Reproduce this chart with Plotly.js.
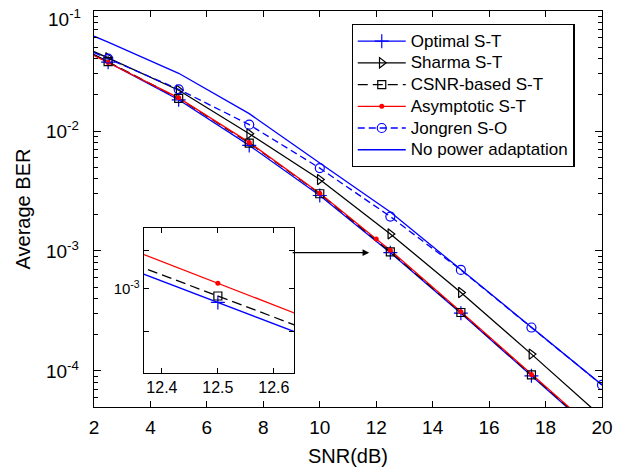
<!DOCTYPE html>
<html>
<head>
<meta charset="utf-8">
<script src="https://cdn.plot.ly/plotly-3.0.1.min.js"></script>
<style>
  html, body { margin: 0; padding: 0; background: #fff; }
  #chart { width: 634px; height: 469px; }
</style>
</head>
<body>
<div id="chart"></div>
<script>
// ---- data ----
const snr      = [2, 2.5, 5, 7.5, 10, 12.5, 15, 17.5, 20];
const optimal  = [0.0433, 0.0375, 0.01822, 0.00759, 0.00290, 9.675e-4, 3.03e-4, 9.1e-5, 2.75e-5];
const sharma   = [0.0459, 0.0408, 0.02188, 0.00950, 0.00394, 1.388e-3, 4.51e-4, 1.38e-4, 4.12e-5];
const csnr     = [0.0435, 0.0379, 0.01875, 0.00793, 0.00300, 9.83e-4, 3.07e-4, 9.27e-5, 2.8e-5];
const snrAsym  = [2, 2.5, 5, 7.5, 10, 12, 12.5, 15, 17.5, 20];
const asym     = [0.0426, 0.0373, 0.01892, 0.00804, 0.00303, 1.26e-3, 1.014e-3, 3.11e-4, 9.35e-5, 2.85e-5];
const jongren  = [0.0451, 0.0401, 0.0223, 0.0113, 0.00491, 1.936e-3, 6.95e-4, 2.30e-4, 7.64e-5];
const noPower  = [0.0618, 0.0551, 0.0303, 0.01396, 0.00542, 2.11e-3, 7.0e-4, 2.30e-4, 7.64e-5];

// inset (zoom around SNR = 12.5 dB)
const insetSnr     = [12.35, 12.5, 12.65];
const insetOptimal = [1.0466e-3, 9.675e-4, 8.944e-4];
const insetCsnr    = [1.0623e-3, 9.83e-4, 9.096e-4];
const insetAsym    = [1.0984e-3, 1.014e-3, 9.362e-4];

const names = ['Optimal S-T', 'Sharma S-T', 'CSNR-based S-T', 'Asymptotic S-T', 'Jongren S-O', 'No power adaptation'];
const xTicks = [2, 4, 6, 8, 10, 12, 14, 16, 18, 20];
const yTicks = [1e-4, 1e-3, 1e-2];
const yTickText = ['10<sup>-4</sup>', '10<sup>-3</sup>', '10<sup>-2</sup>'];
const yTopTick = 1e-1;
const yTopTickText = '10<sup>-1</sup>';
const insetXTicks = [12.4, 12.5, 12.6];
const insetYTicks = [1e-3];
const insetYTickText = ['10<sup>-3</sup>'];
const insetYMinor = [9e-4, 1.1e-3];

// ---- styles ----
const BLUE = '#0000ff', RED = '#ff0000', BLACK = '#000000';
const LW = 1.3;
const styles = [
  { color: BLUE,  dash: 'solid',     symbol: 'cross-thin-open',     size: 10 },
  { color: BLACK, dash: 'solid',     symbol: 'triangle-right-open', size: 9 },
  { color: BLACK, dash: '10px,5px',  symbol: 'square-open',         size: 8 },
  { color: RED,   dash: 'solid',     symbol: 'circle',              size: 5 },
  { color: BLUE,  dash: '7px,4px',   symbol: 'circle-open',         size: 9 },
  { color: BLUE,  dash: 'solid',     symbol: null,                  size: 0 }
];
const series = [
  { x: snr,     y: optimal },
  { x: snr,     y: sharma },
  { x: snr,     y: csnr },
  { x: snrAsym, y: asym },
  { x: snr,     y: jongren },
  { x: snr,     y: noPower }
];

function markerOf(s) {
  return { symbol: s.symbol, size: s.size, color: s.color,
           line: { width: s.symbol === 'circle' ? 0 : 1.2, color: s.color } };
}

const traces = [];
// lines
series.forEach((d, i) => {
  const s = styles[i];
  traces.push({ x: d.x, y: d.y, type: 'scatter', mode: 'lines', showlegend: false,
    line: { color: s.color, width: LW, dash: s.dash }, hoverinfo: 'skip' });
});
// markers (every data point except the left edge start)
series.forEach((d, i) => {
  const s = styles[i];
  if (!s.symbol) return;
  traces.push({ x: d.x.slice(1), y: d.y.slice(1), type: 'scatter', mode: 'markers',
    showlegend: false, marker: markerOf(s) });
});
// legend entries
const LEGEND_TEXT_SIZE = 17;
names.forEach((n, i) => {
  const s = styles[i];
  const t = { x: [null], y: [null], type: 'scatter',
    name: '<span style="font-size:' + LEGEND_TEXT_SIZE + 'px">' + n + '</span>',
    mode: s.symbol ? 'lines+markers' : 'lines',
    line: { color: s.color, width: LW, dash: s.dash } };
  if (s.symbol) t.marker = markerOf(s);
  traces.push(t);
});
// inset
[[insetOptimal, 0], [insetCsnr, 2], [insetAsym, 3]].forEach(([vals, i]) => {
  const s = styles[i];
  traces.push({ x: insetSnr, y: vals, xaxis: 'x2', yaxis: 'y2', type: 'scatter',
    mode: 'lines+markers', showlegend: false,
    line: { color: s.color, width: LW, dash: s.dash }, marker: markerOf(s) });
});

const FONT = 'Liberation Sans, Arial, Helvetica, sans-serif';
const minorY = [];
for (let e = -5; e <= -1; e++) for (let m = 2; m <= 9; m++) minorY.push(m * Math.pow(10, e));

const layout = {
  width: 634, height: 469,
  margin: { l: 94, r: 32, t: 11, b: 62 },
  paper_bgcolor: '#fff', plot_bgcolor: '#fff',
  font: { family: FONT, size: 19, color: '#000' },
  showlegend: true,
  legend: {
    x: 0.507, y: 0.967, xanchor: 'left', yanchor: 'top',
    bgcolor: '#fff', bordercolor: '#000', borderwidth: 1.2,
    font: { family: FONT, size: 14.4, color: '#000' },
    itemwidth: 48, tracegroupgap: 0
  },
  xaxis: {
    domain: [0, 1], range: [2, 20], tickvals: xTicks,
    ticks: 'inside', ticklen: 6, tickwidth: 1, tickcolor: '#000',
    showline: true, linecolor: '#000', linewidth: 1.3, mirror: 'ticks',
    showgrid: false, zeroline: false, ticklabeloverflow: 'allow',
    tickfont: { size: 19 }, ticklabelstandoff: 3,
    title: { text: 'SNR(dB)', font: { size: 20 }, standoff: 12 }
  },
  yaxis: {
    domain: [0, 1], type: 'log', range: [Math.log10(5e-5), -0.999],
    tickvals: yTicks, ticktext: yTickText,
    ticks: 'inside', ticklen: 7, tickwidth: 1, tickcolor: '#000',
    minor: { tickvals: minorY, ticks: 'inside', ticklen: 4, tickcolor: '#000', showgrid: false },
    showline: true, linecolor: '#000', linewidth: 1.3, mirror: 'ticks',
    showgrid: false, zeroline: false, ticklabeloverflow: 'allow',
    tickfont: { size: 19 }, ticklabelstandoff: 10,
    title: { text: 'Average BER', font: { size: 20 }, standoff: 10 }
  },
  xaxis2: {
    domain: [0.0984, 0.3937], anchor: 'y2', range: [12.368, 12.636],
    tickvals: insetXTicks, ticks: 'inside', ticklen: 5, tickcolor: '#000',
    showline: true, linecolor: '#000', linewidth: 1.3, mirror: 'ticks',
    showgrid: false, zeroline: false, tickfont: { size: 16 }
  },
  yaxis2: {
    domain: [0.0859, 0.452], anchor: 'x2', type: 'log', range: [-3.0894, -2.9351],
    tickvals: insetYTicks, ticktext: insetYTickText,
    minor: { tickvals: insetYMinor, ticks: 'inside', ticklen: 5, tickcolor: '#000', showgrid: false },
    ticks: 'inside', ticklen: 5, tickcolor: '#000',
    showline: true, linecolor: '#000', linewidth: 1.3, mirror: 'ticks',
    showgrid: false, zeroline: false, tickfont: { size: 15 }
  },
  annotations: [
    {
      xref: 'x', yref: 'y', x: 11.75, y: -3.0139, text: '',
      showarrow: true, ax: -78, ay: 0, arrowhead: 2, arrowsize: 1.2,
      arrowwidth: 1.1, arrowcolor: '#000'
    },
    {
      // top decade label, kept inside the figure as in the reference
      xref: 'paper', yref: 'y', x: 0, y: Math.log10(yTopTick), text: yTopTickText,
      showarrow: false, xanchor: 'right', yanchor: 'middle', xshift: -11, yshift: -7,
      font: { family: FONT, size: 19, color: '#000' }
    }
  ]
};

Plotly.newPlot('chart', traces, layout, { displayModeBar: false, staticPlot: true });
</script>
</body>
</html>
